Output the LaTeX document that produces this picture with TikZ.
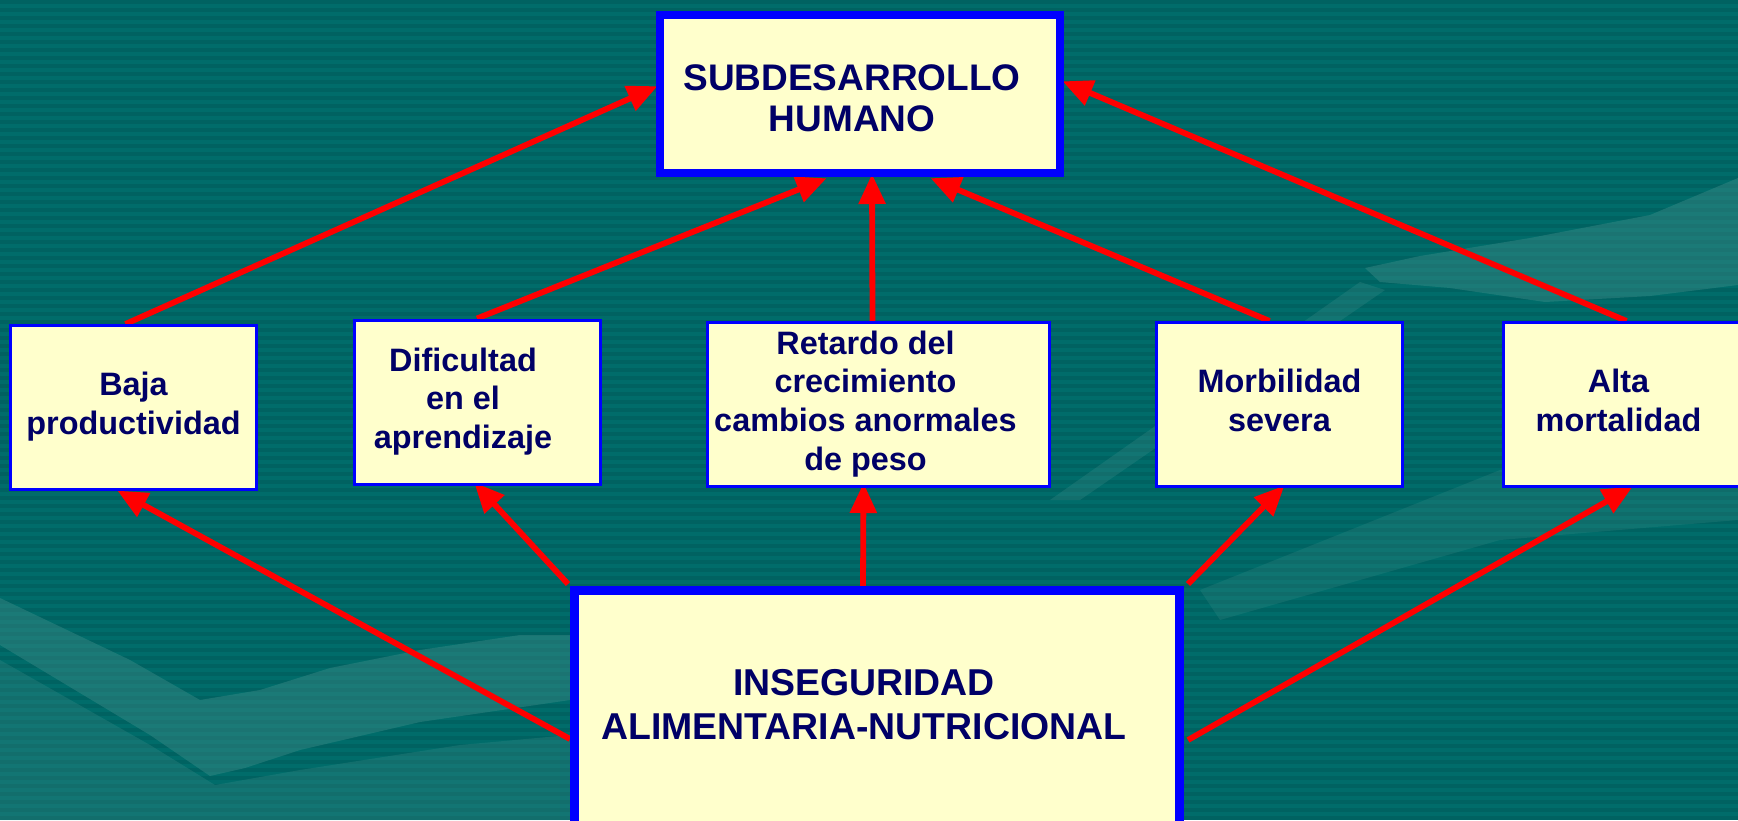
\documentclass[tikz,border=0pt]{standalone}
\usepackage{fontspec}
\setmainfont{Liberation Sans}
\usetikzlibrary{arrows.meta,calc}
\definecolor{bgA}{RGB}{0,108,106}
\definecolor{bgB}{RGB}{0,98,97}
\definecolor{shapeC}{RGB}{60,140,136}
\definecolor{boxfill}{RGB}{255,255,204}
\definecolor{boxline}{RGB}{0,0,255}
\definecolor{txtc}{RGB}{0,0,102}
\definecolor{arrc}{RGB}{255,0,0}
\pgfdeclarelayer{bg}
\pgfsetlayers{bg,main}
\begin{document}
\begin{tikzpicture}[x=0.5pt,y=-0.5pt,
  box/.style={draw=boxline,fill=boxfill,inner sep=0pt,line width=1.5pt,
    minimum width=123pt,minimum height=82pt,text=txtc,
    font=\bfseries\fontsize{16.2}{19.3}\selectfont},
  topbox/.style={box,line width=4pt,minimum width=200pt,minimum height=79pt,
    font=\bfseries\fontsize{18.5}{20.5}\selectfont},
  botbox/.style={box,line width=4.5pt,minimum width=302.5pt,minimum height=118.5pt,
    font=\bfseries\fontsize{18.7}{22}\selectfont},
  arr/.style={draw=arrc,line width=2.9pt,-{Triangle[length=15pt,width=13pt]}},
  deco/.style={fill=shapeC,opacity=0.45}
]
\useasboundingbox (0,0) rectangle (1738,820);

\node[topbox] (top) at (860,94) {\raisebox{-4.5pt}[\height][\depth]{\begin{tabular}{@{}c@{}}SUBDESARROLLO\\HUMANO\end{tabular}}\kern8pt};
\node[box] (baja) at (133.5,407.5) {\begin{tabular}{@{}c@{}}Baja\\productividad\end{tabular}};
\node[box] (dif) at (477,402) {\begin{tabular}{@{}c@{}}Dificultad\\en el\\aprendizaje\end{tabular}\kern14pt};
\node[box,minimum width=171pt] (ret) at (878.5,404.5) {\begin{tabular}{@{}c@{}}Retardo del\\crecimiento\\cambios anormales\\de peso\end{tabular}\kern13pt};
\node[box] (mor) at (1279.5,404.5) {\begin{tabular}{@{}c@{}}Morbilidad\\severa\end{tabular}};
\node[box] (alta) at (1626.5,404.5) {\begin{tabular}{@{}c@{}}Alta\\mortalidad\end{tabular}\kern8pt};
\node[botbox] (bot) at (877,709) {\begin{tabular}{@{}c@{}}INSEGURIDAD\\ALIMENTARIA-NUTRICIONAL\end{tabular}\kern13pt};

\begin{pgfonlayer}{bg}
  \fill[bgA] (0,0) rectangle (1738,820);
  \foreach \y in {0,8,...,816} {\fill[bgB] (0,\y) rectangle (1738,\y+4);}
  % decorative lighter shapes
  \fill[deco] (0,598) -- (130,660) -- (200,700) -- (260,690) -- (330,668) -- (420,650)
     -- (520,635) -- (570,635) -- (570,700) -- (420,722) -- (300,750) -- (245,768)
     -- (210,776) -- (150,735) -- (0,645) -- cycle;
  \fill[deco,opacity=0.3] (0,660) -- (150,745) -- (215,785) -- (300,770) -- (460,745)
     -- (570,735) -- (570,820) -- (0,820) -- cycle;
  \fill[deco] (1365,268) -- (1420,256) -- (1530,238) -- (1650,215) -- (1738,178)
     -- (1738,285) -- (1650,296) -- (1545,302) -- (1450,288) -- (1380,282) -- cycle;
  \fill[deco,opacity=0.3] (1050,500) -- (1360,282) -- (1385,290) -- (1080,500) -- cycle;
  \fill[deco,opacity=0.25] (1200,590) -- (1500,470) -- (1738,440) -- (1738,520)
     -- (1500,540) -- (1220,620) -- cycle;
  % arrows up to the top box
  \draw[arr] ($(baja.north)+(-8,0)$) -- ($(top.west)+(1.4,-7.8)$);
  \draw[arr] (dif.north) -- ($(top.south)+(-33.5,1.3)$);
  \draw[arr] ($(ret.north)+(-6,0)$) -- ($(top.south)+(12,-3)$);
  \draw[arr] ($(mor.north)+(-10,0)$) -- ($(top.south)+(70.6,1.2)$);
  \draw[arr] (alta.north) -- ($(top.east)+(-1.4,-12.7)$);
  % arrows up from the bottom box
  \draw[arr] ($(bot.west)+(0,30)$) -- ($(baja.south)+(-16.1,-0.4)$);
  \draw[arr] ($(bot.north west)+(-2,-2)$) -- ($(dif.south)+(-2.8,-3.1)$);
  \draw[arr] ($(bot.north)+(-14,0)$) -- ($(ret.south)+(-15,-5)$);
  \draw[arr] ($(bot.north east)+(4,-2)$) -- ($(mor.south)+(4.9,-2.5)$);
  \draw[arr] ($(bot.east)+(4,31)$) -- ($(alta.south)+(6.1,-1.4)$);
\end{pgfonlayer}
\end{tikzpicture}
\end{document}
